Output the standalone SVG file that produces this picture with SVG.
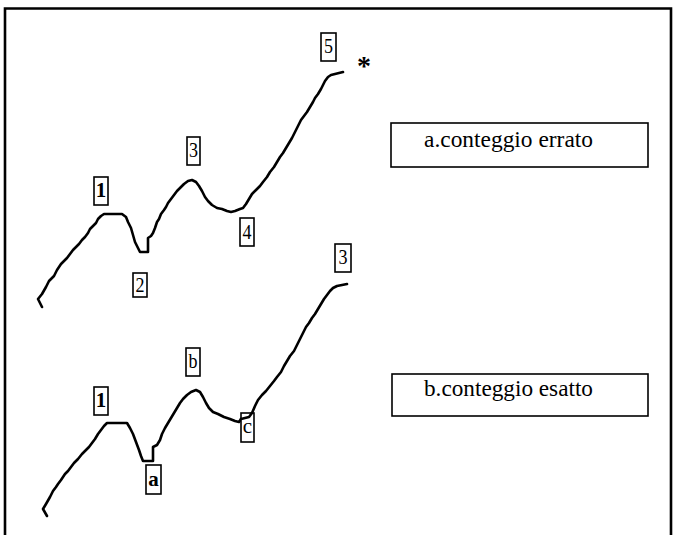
<svg xmlns="http://www.w3.org/2000/svg" width="676" height="535" viewBox="0 0 676 535">
<style>
.curve{fill:none;stroke:#000;stroke-width:2.6;stroke-linejoin:round;stroke-linecap:round}
.box{fill:#fff;stroke:#000;stroke-width:1.6}
.lbl{font-family:"Liberation Serif","Times New Roman",serif;font-size:21px;fill:#000;text-anchor:middle}
.cap{font-family:"Liberation Serif","Times New Roman",serif;font-size:23px;fill:#000}
.frame{fill:none;stroke:#000;stroke-width:2.6}
</style>
<rect x="0" y="0" width="676" height="535" fill="#fff"/>
<path class="frame" d="M5,535 V8.5 H671 V535"/>
<g id="connectors">
<path id="curve-a" class="curve" d="M42,307 L38,299 L42,294 L46,287 L49,281 L51,279 L54,276 L57,270 L61,264 L64,261 L67,258 L70,254 L73,250 L76,247 L79,244 L82,240 L85,237 L88,233 L90,229 L93,226 L96,223 L98,219 L101,216 L104,214 L122,214 L126,217 L128,222 L131,228 L133,235 L135,242 L138,248 L140,252 L148,252 L148,238 L151,236 L153,233 L155,228 L157,222 L159,219 L161,214 L164,210 L166,207 L168,203 L171,199 L174,195 L177,191 L180,188 L184,184 L188,181 L192,180 L196,182 L199,186 L202,191 L205,197 L208,201 L212,205 L217,208 L222,209 L227,211 L231,212 L235,211 L240,209 L243,208 L246,204 L249,199 L252,194 L256,190 L260,186 L263,182 L267,177 L270,172 L274,167 L277,162 L280,157 L283,153 L286,148 L289,143 L292,138 L295,132 L298,126 L301,120 L304,116 L307,112 L310,107 L313,102 L315,98 L318,94 L321,89 L323,85 L325,81 L328,77 L331,75 L335,74 L339,73 L343,72"/>
<path id="curve-b" class="curve" d="M47,516 L43,509 L46,504 L50,497 L53,491 L56,487 L58,484 L61,480 L65,474 L68,471 L71,467 L74,463 L78,459 L82,454 L85,451 L89,447 L92,443 L95,439 L98,434 L101,430 L104,426 L107,423 L127,423 L130,428 L133,434 L136,442 L139,450 L141,456 L143,461 L153,461 L153,447 L157,445 L160,440 L162,434 L165,428 L168,423 L171,418 L174,413 L177,408 L180,403 L183,399 L187,395 L191,392 L196,390 L200,392 L203,397 L206,403 L209,408 L213,412 L218,414 L224,417 L230,419 L235,421 L239,422 L241,419 L245,418 L249,417 L252,413 L255,406 L258,400 L262,395 L266,391 L270,386 L274,381 L277,377 L281,372 L284,366 L287,361 L290,356 L294,351 L297,345 L300,339 L303,333 L306,327 L309,323 L312,318 L315,314 L318,309 L321,304 L324,299 L327,295 L330,291 L333,288 L337,286 L342,285 L347,284"/>
</g>
<g id="node-a5"><rect class="box" x="321" y="33" width="15" height="28"/><text class="lbl" x="328.5" y="53" textLength="9" lengthAdjust="spacingAndGlyphs">5</text></g>
<g id="node-star"><text x="364" y="75" text-anchor="middle" font-family="Liberation Serif, serif" font-size="28" font-weight="bold" fill="#000">*</text></g>
<g id="node-a3"><rect class="box" x="187" y="137" width="13" height="28"/><text class="lbl" x="193.5" y="157" textLength="9" lengthAdjust="spacingAndGlyphs">3</text></g>
<g id="node-a1"><rect class="box" x="94" y="177" width="14" height="28"/><text class="lbl" x="101" y="197" font-weight="bold">1</text></g>
<g id="node-a2"><rect class="box" x="133" y="273" width="14" height="24"/><text class="lbl" x="140" y="292" textLength="9" lengthAdjust="spacingAndGlyphs">2</text></g>
<g id="node-a4"><rect class="box" x="240" y="218" width="14" height="28"/><text class="lbl" x="247" y="239" textLength="9" lengthAdjust="spacingAndGlyphs">4</text></g>
<g id="node-b3"><rect class="box" x="335" y="244" width="16" height="28"/><text class="lbl" x="343" y="264" textLength="9" lengthAdjust="spacingAndGlyphs">3</text></g>
<g id="node-bb"><rect class="box" x="186" y="348" width="14" height="28"/><text class="lbl" x="193" y="368" textLength="9" lengthAdjust="spacingAndGlyphs">b</text></g>
<g id="node-b1"><rect class="box" x="94" y="387" width="14" height="28"/><text class="lbl" x="101" y="407" font-weight="bold">1</text></g>
<g id="node-ba"><rect class="box" x="146" y="465" width="15" height="29"/><text class="lbl" x="153.5" y="486" font-weight="bold">a</text></g>
<g id="node-bc"><rect class="box" x="241" y="413" width="13" height="29" fill="none"/><path class="curve" d="M241,419 L245,418 L249,417 L252,413" stroke-width="2.2"/><text class="lbl" x="247.5" y="433">c</text></g>
<g id="caption-a"><rect class="box" x="391" y="123" width="257" height="44"/><text class="cap" x="424" y="147" textLength="169" lengthAdjust="spacingAndGlyphs">a.conteggio errato</text></g>
<g id="caption-b"><rect class="box" x="392" y="374" width="256" height="42"/><text class="cap" x="424" y="396" textLength="169" lengthAdjust="spacingAndGlyphs">b.conteggio esatto</text></g>
</svg>
